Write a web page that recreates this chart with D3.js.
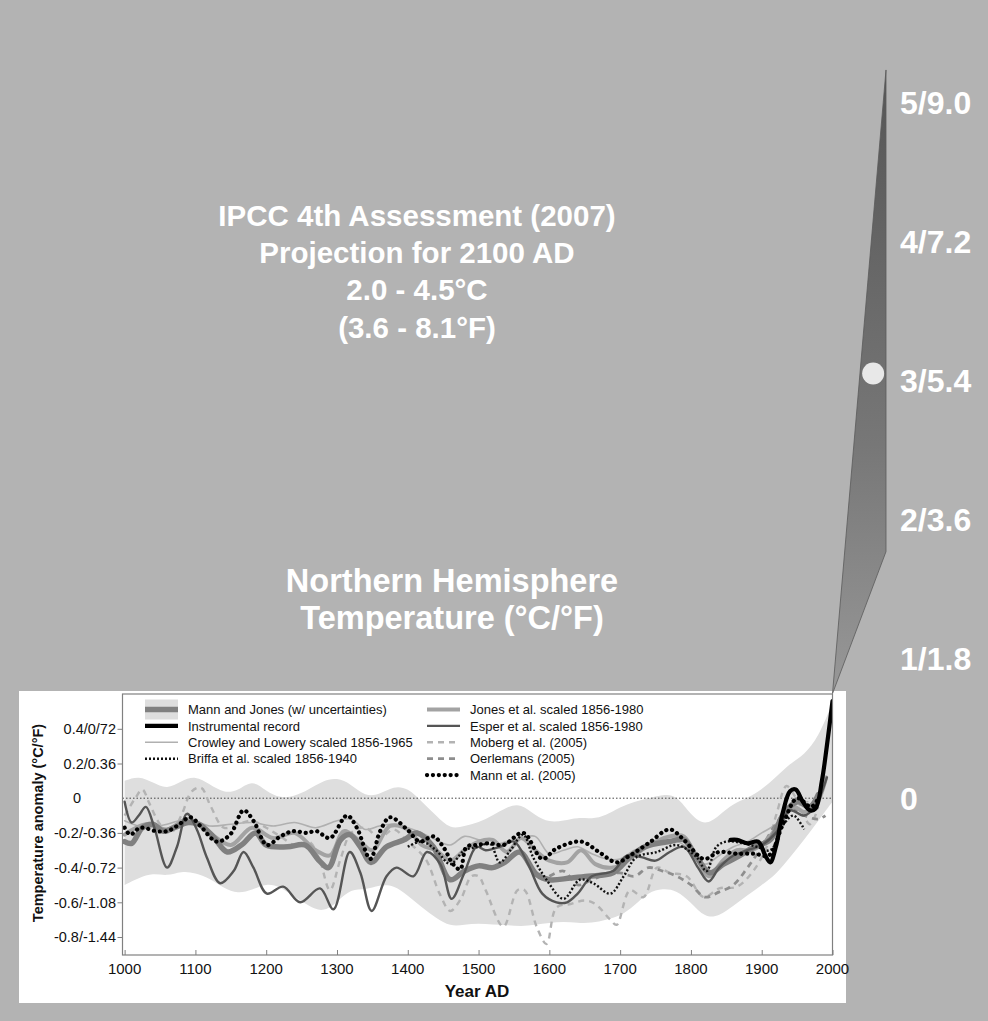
<!DOCTYPE html>
<html><head><meta charset="utf-8">
<script src="https://cdn.jsdelivr.net/npm/d3@7"></script>
<style>
html,body{margin:0;padding:0;background:#b3b3b3;}
svg{display:block;font-family:"Liberation Sans",Arial,Helvetica,sans-serif;}
</style>
</head><body>
<svg id="chart" width="988" height="1021"></svg>
<script>
// ---------------- DATA ----------------
const titleLines = ["IPCC 4th Assessment (2007)", "Projection for 2100 AD", "2.0 - 4.5°C", "(3.6 - 8.1°F)"];
const nhLines = ["Northern Hemisphere", "Temperature (°C/°F)"];

const yearTicks = [1000,1100,1200,1300,1400,1500,1600,1700,1800,1900,2000];
const yTickValues = [0.4, 0.2, 0, -0.2, -0.4, -0.6, -0.8];
const yTickLabels = ["0.4/0/72", "0.2/0.36", "0", "-0.2/-0.36", "-0.4/-0.72", "-0.6/-1.08", "-0.8/-1.44"];

const projTickValues = [0, 1, 2, 3, 4, 5];
const projTickLabels = ["0", "1/1.8", "2/3.6", "3/5.4", "4/7.2", "5/9.0"];
const projWedge = [[2000, 0.75], [2100, 5.23], [2100, 1.77]];
const projDot = [2076, 3.05];

const bandYears = [1000,1020,1040,1060,1080,1100,1120,1140,1160,1180,1200,1220,1240,1260,1280,1300,1320,1340,1360,1380,1400,1420,1440,1460,1480,1500,1520,1540,1560,1580,1600,1620,1640,1660,1680,1700,1720,1740,1760,1780,1800,1820,1840,1860,1880,1900,1920,1940,1960,1980,2000];
const bandUpper = [0.1,0.13,0.09,0.05,0.1,0.13,0.08,0.03,0.04,0.11,0.04,0.0,0.01,0.05,0.1,0.12,0.08,0.01,0.02,0.07,0.06,-0.02,-0.1,-0.18,-0.16,-0.14,-0.1,-0.05,-0.03,-0.1,-0.14,-0.13,-0.11,-0.12,-0.1,-0.05,-0.02,0.0,0.02,0.02,-0.1,-0.16,-0.1,-0.03,0.0,0.05,0.12,0.2,0.25,0.35,0.55];
const bandLower = [-0.5,-0.46,-0.43,-0.45,-0.42,-0.43,-0.46,-0.52,-0.55,-0.53,-0.49,-0.51,-0.57,-0.62,-0.66,-0.6,-0.52,-0.53,-0.5,-0.5,-0.56,-0.63,-0.69,-0.74,-0.73,-0.72,-0.73,-0.73,-0.74,-0.73,-0.72,-0.71,-0.72,-0.72,-0.7,-0.68,-0.62,-0.54,-0.52,-0.53,-0.6,-0.69,-0.68,-0.62,-0.56,-0.5,-0.44,-0.34,-0.24,-0.13,-0.02];

const mannJones = [[1000,-0.25],[1010,-0.26],[1025,-0.17],[1040,-0.15],[1055,-0.19],[1070,-0.17],[1090,-0.14],[1105,-0.15],[1125,-0.22],[1145,-0.31],[1165,-0.27],[1185,-0.2],[1200,-0.27],[1230,-0.28],[1255,-0.27],[1275,-0.36],[1288,-0.40],[1305,-0.24],[1318,-0.21],[1333,-0.28],[1348,-0.37],[1370,-0.28],[1395,-0.24],[1413,-0.2],[1436,-0.28],[1460,-0.47],[1480,-0.42],[1500,-0.39],[1520,-0.40],[1537,-0.37],[1558,-0.31],[1582,-0.44],[1600,-0.47],[1630,-0.46],[1655,-0.45],[1690,-0.43],[1714,-0.34],[1735,-0.28],[1770,-0.25],[1790,-0.24],[1808,-0.34],[1827,-0.43],[1846,-0.38],[1865,-0.34],[1890,-0.28],[1912,-0.24],[1931,-0.09],[1950,-0.02],[1968,-0.05],[1980,0.02]];

const instrumental = [[1856,-0.24],[1865,-0.24],[1880,-0.26],[1895,-0.25],[1905,-0.33],[1912,-0.37],[1920,-0.28],[1930,-0.08],[1940,0.04],[1948,0.05],[1958,-0.02],[1968,-0.07],[1976,-0.06],[1985,0.1],[1992,0.3],[2000,0.56]];

const crowleyLowery = [[1000,-0.13],[1030,-0.17],[1060,-0.15],[1090,-0.12],[1120,-0.16],[1150,-0.15],[1180,-0.14],[1210,-0.16],[1240,-0.14],[1270,-0.17],[1300,-0.13],[1320,-0.12],[1340,-0.18],[1360,-0.16],[1380,-0.15],[1400,-0.17],[1420,-0.2],[1440,-0.24],[1460,-0.27],[1480,-0.22],[1500,-0.24],[1520,-0.27],[1540,-0.25],[1560,-0.23],[1580,-0.22],[1600,-0.32],[1620,-0.3],[1640,-0.28],[1660,-0.32],[1680,-0.35],[1700,-0.35],[1720,-0.3],[1740,-0.27],[1760,-0.26],[1780,-0.25],[1800,-0.3],[1820,-0.38],[1840,-0.33],[1860,-0.28],[1880,-0.25],[1900,-0.2],[1920,-0.15],[1940,-0.05],[1965,-0.02]];

const briffa = [[1400,-0.28],[1420,-0.25],[1440,-0.3],[1460,-0.38],[1480,-0.3],[1500,-0.28],[1516,-0.26],[1530,-0.37],[1545,-0.3],[1563,-0.21],[1577,-0.34],[1596,-0.47],[1620,-0.58],[1643,-0.47],[1662,-0.49],[1686,-0.55],[1705,-0.45],[1723,-0.34],[1752,-0.31],[1780,-0.27],[1808,-0.34],[1822,-0.42],[1836,-0.28],[1850,-0.25],[1874,-0.26],[1893,-0.28],[1912,-0.3],[1931,-0.15],[1945,-0.1],[1960,-0.18]];

const jones = [[1000,-0.21],[1030,-0.15],[1060,-0.18],[1090,-0.12],[1120,-0.2],[1150,-0.27],[1180,-0.17],[1210,-0.23],[1240,-0.2],[1270,-0.3],[1290,-0.33],[1310,-0.19],[1330,-0.24],[1350,-0.3],[1375,-0.16],[1400,-0.18],[1420,-0.27],[1440,-0.3],[1460,-0.36],[1480,-0.3],[1500,-0.25],[1520,-0.24],[1540,-0.31],[1560,-0.23],[1580,-0.3],[1600,-0.36],[1625,-0.37],[1645,-0.3],[1665,-0.38],[1690,-0.4],[1710,-0.36],[1730,-0.3],[1750,-0.25],[1770,-0.22],[1790,-0.22],[1810,-0.36],[1825,-0.45],[1845,-0.36],[1865,-0.3],[1885,-0.3],[1905,-0.25],[1925,-0.15],[1945,-0.05],[1960,-0.08],[1975,-0.05],[1991,0.12]];

const esper = [[1000,-0.02],[1010,-0.14],[1020,-0.1],[1030,-0.05],[1042,-0.17],[1060,-0.40],[1074,-0.28],[1088,-0.09],[1102,-0.18],[1116,-0.34],[1135,-0.49],[1154,-0.42],[1168,-0.31],[1182,-0.40],[1201,-0.55],[1224,-0.51],[1248,-0.60],[1276,-0.52],[1295,-0.64],[1318,-0.31],[1333,-0.43],[1349,-0.65],[1370,-0.45],[1384,-0.40],[1408,-0.45],[1427,-0.31],[1446,-0.38],[1462,-0.58],[1479,-0.44],[1497,-0.28],[1510,-0.3],[1530,-0.28],[1550,-0.25],[1570,-0.38],[1590,-0.55],[1610,-0.6],[1625,-0.6],[1640,-0.55],[1660,-0.45],[1690,-0.42],[1710,-0.33],[1730,-0.34],[1750,-0.36],[1770,-0.31],[1790,-0.28],[1810,-0.4],[1825,-0.48],[1840,-0.4],[1860,-0.33],[1880,-0.3],[1900,-0.27],[1920,-0.2],[1940,-0.07],[1960,-0.1],[1975,-0.05],[1992,0.12]];

const moberg = [[1000,-0.1],[1015,0.0],[1025,0.05],[1035,-0.03],[1050,-0.15],[1065,-0.2],[1080,-0.1],[1095,0.04],[1108,0.06],[1122,-0.05],[1140,-0.17],[1160,-0.15],[1180,-0.13],[1200,-0.17],[1220,-0.22],[1245,-0.28],[1260,-0.25],[1275,-0.35],[1290,-0.53],[1305,-0.35],[1320,-0.2],[1340,-0.17],[1360,-0.23],[1380,-0.18],[1400,-0.25],[1425,-0.35],[1445,-0.55],[1460,-0.65],[1475,-0.58],[1490,-0.45],[1500,-0.45],[1510,-0.53],[1535,-0.74],[1555,-0.53],[1565,-0.53],[1582,-0.74],[1596,-0.84],[1610,-0.63],[1630,-0.61],[1650,-0.59],[1665,-0.61],[1686,-0.7],[1695,-0.73],[1714,-0.53],[1733,-0.57],[1752,-0.4],[1770,-0.43],[1794,-0.45],[1818,-0.57],[1840,-0.52],[1865,-0.51],[1888,-0.42],[1907,-0.28],[1921,-0.09],[1935,0.07],[1950,-0.01],[1968,-0.15],[1980,-0.05]];

const oerlemans = [[1600,-0.45],[1620,-0.42],[1640,-0.5],[1660,-0.47],[1680,-0.44],[1700,-0.43],[1720,-0.45],[1740,-0.4],[1760,-0.42],[1780,-0.45],[1800,-0.5],[1820,-0.57],[1840,-0.54],[1860,-0.5],[1880,-0.4],[1900,-0.28],[1920,-0.15],[1940,-0.05],[1960,-0.1],[1980,-0.12],[1990,-0.1]];

const mann2005 = [[1000,-0.17],[1008,-0.21],[1022,-0.17],[1045,-0.19],[1060,-0.19],[1074,-0.16],[1093,-0.11],[1107,-0.16],[1130,-0.25],[1149,-0.21],[1168,-0.07],[1182,-0.13],[1201,-0.27],[1220,-0.22],[1238,-0.19],[1257,-0.2],[1271,-0.19],[1290,-0.23],[1314,-0.1],[1328,-0.17],[1347,-0.35],[1361,-0.19],[1375,-0.11],[1399,-0.18],[1417,-0.25],[1436,-0.22],[1450,-0.28],[1464,-0.38],[1474,-0.41],[1483,-0.28],[1497,-0.27],[1516,-0.26],[1535,-0.27],[1563,-0.2],[1590,-0.35],[1610,-0.29],[1645,-0.25],[1670,-0.31],[1695,-0.37],[1714,-0.33],[1740,-0.26],[1770,-0.18],[1790,-0.24],[1818,-0.35],[1840,-0.31],[1865,-0.32],[1890,-0.32],[1910,-0.33],[1930,-0.15],[1950,0.0],[1970,-0.05],[1980,0.0]];

const legendLeft = ["Mann and Jones (w/ uncertainties)", "Instrumental record", "Crowley and Lowery scaled 1856-1965", "Briffa et al. scaled 1856-1940"];
const legendRight = ["Jones et al. scaled 1856-1980", "Esper et al. scaled 1856-1980", "Moberg et al. (2005)", "Oerlemans (2005)", "Mann et al. (2005)"];

// ---------------- STYLES ----------------
const styles = {
  "Mann and Jones (w/ uncertainties)": {color:"#808080", width:5.5, dash:null, cap:"round"},
  "Instrumental record": {color:"#000", width:4.2, dash:null, cap:"round"},
  "Crowley and Lowery scaled 1856-1965": {color:"#b0b0b0", width:1.6, dash:null, cap:"round"},
  "Briffa et al. scaled 1856-1940": {color:"#111", width:2.4, dash:"2,2", cap:"butt"},
  "Jones et al. scaled 1856-1980": {color:"#a3a3a3", width:4, dash:null, cap:"round"},
  "Esper et al. scaled 1856-1980": {color:"#555", width:2.4, dash:null, cap:"round"},
  "Moberg et al. (2005)": {color:"#b3b3b3", width:2.4, dash:"6,5", cap:"butt"},
  "Oerlemans (2005)": {color:"#8e8e8e", width:2.8, dash:"6,5", cap:"butt"},
  "Mann et al. (2005)": {color:"#000", width:4.2, dash:"0.1,5.8", cap:"round"}
};
const seriesData = {
  "Mann and Jones (w/ uncertainties)": mannJones,
  "Instrumental record": instrumental,
  "Crowley and Lowery scaled 1856-1965": crowleyLowery,
  "Briffa et al. scaled 1856-1940": briffa,
  "Jones et al. scaled 1856-1980": jones,
  "Esper et al. scaled 1856-1980": esper,
  "Moberg et al. (2005)": moberg,
  "Oerlemans (2005)": oerlemans,
  "Mann et al. (2005)": mann2005
};
const drawOrder = ["Crowley and Lowery scaled 1856-1965","Moberg et al. (2005)","Oerlemans (2005)","Jones et al. scaled 1856-1980","Mann and Jones (w/ uncertainties)","Esper et al. scaled 1856-1980","Briffa et al. scaled 1856-1940","Mann et al. (2005)","Instrumental record"];

// ---------------- LAYOUT ----------------
const svg = d3.select("#chart");
const W = 988, H = 1021;
svg.append("rect").attr("width", W).attr("height", H).attr("fill", "#b3b3b3");

const plot = {left:122.5, right:832.5, top:694, bottom:955};
const x = d3.scaleLinear().domain([997, 2000]).range([plot.left, plot.right]);
const y = d3.scaleLinear().domain([-0.8, 0.2]).range([937, 763.5]);

// projection scales
const xProj = d3.scaleLinear().domain([2000, 2100]).range([plot.right, 886]);
const yProj = d3.scaleLinear().domain([0, 5]).range([798, 102]);

// gradient for wedge
const defs = svg.append("defs");
const grad = defs.append("linearGradient").attr("id","wedgeGrad")
  .attr("gradientUnits","userSpaceOnUse").attr("x1",0).attr("x2",0)
  .attr("y1", yProj(5.23)).attr("y2", yProj(0.75));
grad.append("stop").attr("offset","0").attr("stop-color","#555555");
grad.append("stop").attr("offset","0.6").attr("stop-color","#777777");
grad.append("stop").attr("offset","1").attr("stop-color","#989898");

defs.append("clipPath").attr("id","plotClip").append("rect")
  .attr("x", plot.left).attr("y", plot.top).attr("width", plot.right - plot.left).attr("height", plot.bottom - plot.top);

// Titles
svg.append("g").selectAll("text").data(titleLines).join("text")
  .attr("x", 417).attr("y", (d,i) => 215 + i*37.3).attr("dy","0.36em")
  .attr("text-anchor","middle").attr("fill","#fff").attr("font-weight","bold")
  .attr("font-size", 29.5).text(d => d);

svg.append("g").selectAll("text").data(nhLines).join("text")
  .attr("x", 452).attr("y", (d,i) => 580 + i*37).attr("dy","0.36em")
  .attr("text-anchor","middle").attr("fill","#fff").attr("font-weight","bold")
  .attr("font-size", 32.5).text(d => d);

// Right projection labels
svg.append("g").selectAll("text").data(projTickValues).join("text")
  .attr("x", 900).attr("y", d => yProj(d)).attr("dy","0.36em")
  .attr("fill","#fff").attr("font-weight","bold").attr("font-size", 32)
  .text((d,i) => projTickLabels[i]);

// White panel
svg.append("rect").attr("x", 19).attr("y", 691).attr("width", 827).attr("height", 312).attr("fill","#fff");

// Wedge
svg.append("path")
  .attr("d", d3.line().x(d => xProj(d[0])).y(d => yProj(d[1]))(projWedge) + "Z")
  .attr("fill","url(#wedgeGrad)").attr("stroke","#5a5a5a").attr("stroke-width",0.8);
svg.append("circle").attr("cx", xProj(projDot[0])).attr("cy", yProj(projDot[1])).attr("r", 11).attr("fill","#e8e8e8");

// Plot content
const g = svg.append("g").attr("clip-path","url(#plotClip)");
const bandData = bandYears.map((yr,i) => ({yr, lo:bandLower[i], hi:bandUpper[i]}));
g.append("path").datum(bandData)
  .attr("d", d3.area().x(d => x(d.yr)).y0(d => y(d.lo)).y1(d => y(d.hi)).curve(d3.curveBasis))
  .attr("fill","#dedede");

// zero line
g.append("line").attr("x1", plot.left).attr("x2", plot.right).attr("y1", y(0)).attr("y2", y(0))
  .attr("stroke","#444").attr("stroke-width",1).attr("stroke-dasharray","1.5,2");

const lineGen = d3.line().x(d => x(d[0])).y(d => y(d[1])).curve(d3.curveCatmullRom.alpha(0.5));
drawOrder.forEach(name => {
  const s = styles[name];
  g.append("path").datum(seriesData[name]).attr("d", lineGen)
    .attr("fill","none").attr("stroke", s.color).attr("stroke-width", s.width)
    .attr("stroke-dasharray", s.dash).attr("stroke-linecap", s.cap).attr("stroke-linejoin","round");
});

// frame
svg.append("rect").attr("x", plot.left).attr("y", plot.top).attr("width", plot.right - plot.left).attr("height", plot.bottom - plot.top)
  .attr("fill","none").attr("stroke","#808080").attr("stroke-width",1.2);

// x axis ticks (inward)
const xAxis = svg.append("g").attr("transform", `translate(0,${plot.bottom})`)
  .call(d3.axisTop(x).tickValues(yearTicks).tickSize(5).tickFormat(""));
xAxis.select(".domain").remove();
xAxis.selectAll("line").attr("stroke","#808080");
svg.append("g").selectAll("text").data(yearTicks).join("text")
  .attr("x", d => x(d)).attr("y", 974).attr("text-anchor","middle")
  .attr("font-size", 15).attr("fill","#111").text(d => d);
svg.append("text").attr("x", 477).attr("y", 997).attr("text-anchor","middle")
  .attr("font-size", 17).attr("font-weight","bold").attr("fill","#111").text("Year AD");

// y axis ticks (outward)
const yAxis = svg.append("g").attr("transform", `translate(${plot.left},0)`)
  .call(d3.axisLeft(y).tickValues(yTickValues.filter(v => v !== 0)).tickSize(5).tickFormat(""));
yAxis.select(".domain").remove();
yAxis.selectAll("line").attr("stroke","#808080");
svg.append("g").selectAll("text").data(yTickValues).join("text")
  .attr("x", d => d === 0 ? 81 : 116).attr("y", d => y(d)).attr("dy","0.36em")
  .attr("text-anchor","end").attr("font-size", 14.5).attr("fill","#111")
  .text((d,i) => yTickLabels[i]);
svg.append("text").attr("transform", `translate(43,${823}) rotate(-90)`)
  .attr("text-anchor","middle").attr("font-size", 14.5).attr("font-weight","bold").attr("fill","#111")
  .text("Temperature anomaly (°C/°F)");

// Legend
function legendSymbol(gg, name, x0, x1, yc) {
  const s = styles[name];
  if (name === "Mann and Jones (w/ uncertainties)") {
    gg.append("rect").attr("x", x0).attr("y", yc - 10).attr("width", x1 - x0).attr("height", 20).attr("fill","#dedede");
  }
  gg.append("line").attr("x1", x0).attr("x2", x1).attr("y1", yc).attr("y2", yc)
    .attr("stroke", s.color).attr("stroke-width", s.width).attr("stroke-dasharray", s.dash)
    .attr("stroke-linecap", s.cap === "round" && !s.dash ? "butt" : s.cap);
}
const lg = svg.append("g");
legendLeft.forEach((name, i) => {
  const yc = 709.5 + i*16.4;
  legendSymbol(lg, name, 145, 178, yc);
  lg.append("text").attr("x", 188).attr("y", yc).attr("dy","0.36em").attr("font-size", 13).attr("fill","#111").text(name);
});
legendRight.forEach((name, i) => {
  const yc = 709.5 + i*16.4;
  legendSymbol(lg, name, 427, 460, yc);
  lg.append("text").attr("x", 470).attr("y", yc).attr("dy","0.36em").attr("font-size", 13).attr("fill","#111").text(name);
});
</script>
</body></html>
